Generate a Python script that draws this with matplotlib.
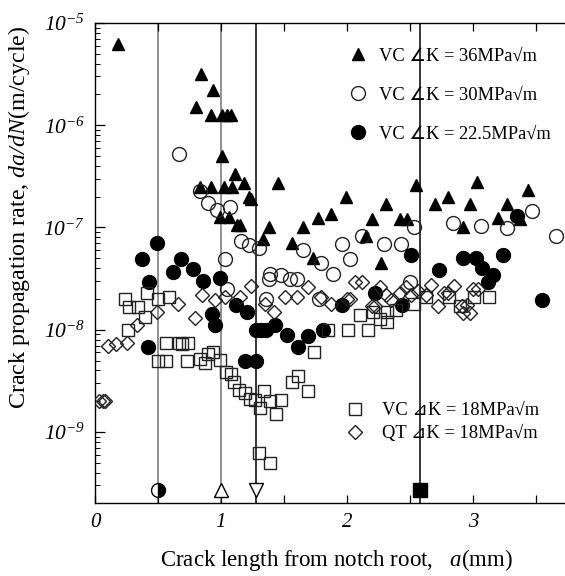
import numpy as np
import matplotlib.pyplot as plt

plt.rcParams['font.family'] = ['Liberation Serif', 'DejaVu Sans']
plt.rcParams['mathtext.fontset'] = 'custom'
plt.rcParams['mathtext.rm'] = 'Liberation Serif:italic'
plt.rcParams['mathtext.it'] = 'Liberation Serif:italic'
plt.rcParams['mathtext.default'] = 'it'

# VC, dK = 36 MPa sqrt(m)
x36 = [0.18, 0.84, 0.94, 0.80, 0.92, 1.01, 1.05, 1.08, 1.01, 1.11, 1.18, 0.83, 0.92, 1.02,
       1.09, 1.45, 1.22, 1.24, 0.99, 1.06, 1.13, 1.15, 1.38, 1.65, 1.77, 1.87, 1.33, 1.56,
       1.99, 2.20, 2.31, 2.42, 2.48, 2.55, 2.15, 1.73, 2.27, 2.70, 2.80, 2.98, 3.03, 2.92,
       3.20, 3.27, 3.37, 3.44]
y36 = [6.2e-6, 3.2e-6, 2.2e-6, 1.5e-6, 1.25e-6, 1.25e-6, 1.25e-6, 1.25e-6, 5e-7, 3.3e-7,
       2.7e-7, 2.5e-7, 2.5e-7, 2.5e-7, 2.5e-7, 2.7e-7, 2e-7, 1.9e-7, 1.26e-7, 1.26e-7,
       1.05e-7, 1.05e-7, 1e-7, 1e-7, 1.23e-7, 1.35e-7, 7.8e-8, 7e-8, 2e-7, 1.2e-7, 1.7e-7,
       1.2e-7, 1.2e-7, 2.6e-7, 8.3e-8, 5e-8, 4.5e-8, 1.7e-7, 2e-7, 1.7e-7, 2.8e-7, 1e-7,
       1.23e-7, 1.7e-7, 1.2e-7, 2.35e-7]

# VC, dK = 30
x30 = [0.67, 0.83, 0.90, 0.97, 1.07, 1.16, 1.22, 1.30, 1.65, 1.03, 1.79, 1.39, 1.48, 1.55,
       1.60, 1.38, 1.05, 1.36, 1.78, 1.89, 1.96, 2.02, 2.12, 2.29, 2.43, 2.53, 2.50, 2.84,
       3.06, 3.27, 3.47, 3.66]
y30 = [5.2e-7, 2.3e-7, 1.73e-7, 1.48e-7, 1.6e-7, 7.4e-8, 6.7e-8, 6.3e-8, 6e-8, 4.9e-8,
       4.5e-8, 3.5e-8, 3.4e-8, 3.1e-8, 3.1e-8, 3.1e-8, 2.5e-8, 2e-8, 2e-8, 3.5e-8, 6.9e-8,
       4.9e-8, 8.3e-8, 6.9e-8, 6.9e-8, 1e-7, 2.95e-8, 1.1e-7, 1.03e-7, 9.8e-8, 1.44e-7, 8.3e-8]

# VC, dK = 22.5
x22 = [0.49, 0.37, 0.68, 0.62, 0.78, 0.43, 0.86, 0.99, 1.12, 1.21, 0.93, 0.95, 1.28, 1.32,
       1.36, 1.43, 1.52, 1.61, 1.69, 1.81, 0.42, 1.19, 1.28, 2.51, 2.73, 2.92, 3.02, 3.07,
       3.16, 3.12, 3.24, 3.35, 3.55, 2.22, 1.96, 2.44]
y22 = [7e-8, 4.9e-8, 4.9e-8, 3.7e-8, 3.9e-8, 2.9e-8, 3e-8, 3.2e-8, 1.74e-8, 1.48e-8,
       1.44e-8, 1.12e-8, 1e-8, 1e-8, 1e-8, 1.12e-8, 8.9e-9, 6.8e-9, 8.7e-9, 1e-8, 6.8e-9,
       4.9e-9, 4.9e-9, 5.4e-8, 3.8e-8, 5e-8, 5e-8, 4e-8, 3.4e-8, 2.95e-8, 5.4e-8, 1.3e-7,
       1.95e-8, 2.3e-8, 1.74e-8, 1.74e-8]

# VC, dK = 18
x18 = [0.24, 0.27, 0.34, 0.41, 0.50, 0.59, 0.40, 0.26, 0.56, 0.67, 0.69, 0.74, 0.50, 0.56,
       0.73, 0.83, 0.87, 0.90, 0.94, 0.99, 1.04, 1.08, 1.10, 1.14, 1.19, 1.23, 1.27, 1.31,
       1.34, 1.39, 1.44, 1.48, 1.56, 1.61, 1.69, 1.74, 1.30, 1.39, 1.85, 2.01, 2.17, 2.10,
       2.21, 2.26, 2.32, 2.32, 2.39, 2.53, 2.63, 2.81, 2.90, 3.01, 3.13]
y18 = [2e-8, 1.66e-8, 1.66e-8, 2.3e-8, 2e-8, 2.1e-8, 1.32e-8, 1e-8, 7.4e-9, 7.5e-9, 7.2e-9,
       7.5e-9, 4.9e-9, 4.9e-9, 4.9e-9, 5.2e-9, 4.7e-9, 5.8e-9, 6.1e-9, 5.1e-9, 3.9e-9,
       3.7e-9, 3.1e-9, 2.6e-9, 2.4e-9, 2.1e-9, 2.05e-9, 1.7e-9, 2.5e-9, 2e-9, 1.5e-9,
       2.05e-9, 3.1e-9, 3.5e-9, 2.5e-9, 6e-9, 6.2e-10, 5e-10, 1e-8, 1e-8, 1e-8, 1.4e-8,
       1.5e-8, 1.26e-8, 1.48e-8, 1.18e-8, 1.55e-8, 1.78e-8, 2.1e-8, 2.1e-8, 1.7e-8, 2.1e-8,
       2.1e-8]

# QT, dK = 18
xqt = [0.03, 0.06, 0.08, 0.10, 0.17, 0.25, 0.33, 0.49, 0.66, 0.79, 0.85, 0.95, 1.03, 1.15,
       1.24, 1.35, 1.42, 1.51, 1.60, 1.69, 1.79, 1.87, 2.00, 2.02, 2.06, 2.12, 2.20, 2.22,
       2.26, 2.31, 2.35, 2.42, 2.47, 2.51, 2.56, 2.67, 2.63, 2.72, 2.77, 2.80, 2.85, 2.91,
       2.92, 2.98, 2.95, 3.00, 3.04]
yqt = [2e-9, 2e-9, 2e-9, 7e-9, 7.2e-9, 7.4e-9, 1.12e-8, 1.5e-8, 1.8e-8, 1.3e-8, 2.2e-8,
       1.95e-8, 2.1e-8, 2.1e-8, 2.7e-8, 1.8e-8, 1.5e-8, 2.1e-8, 2.1e-8, 2.6e-8, 2.1e-8,
       1.8e-8, 2e-8, 2e-8, 2.95e-8, 2.95e-8, 1.7e-8, 1.7e-8, 2.6e-8, 2.2e-8, 1.95e-8, 2.3e-8,
       2.6e-8, 2.2e-8, 2.4e-8, 2.75e-8, 2.2e-8, 1.7e-8, 2.3e-8, 2.3e-8, 2.7e-8, 1.7e-8,
       1.45e-8, 1.45e-8, 1.74e-8, 2.5e-8, 2.5e-8]

# reference crack lengths (vertical lines + symbols at the bottom)
ref_x = [0.5, 1.0, 1.28, 2.58]
ref_y = [2.7e-10, 2.7e-10, 2.7e-10, 2.7e-10]

lbl36 = 'VC ∠K = 36MPa√m'
lbl30 = 'VC ∠K = 30MPa√m'
lbl22 = 'VC ∠K = 22.5MPa√m'
lbl18 = 'VC ⊿K = 18MPa√m'
lblqt = 'QT ⊿K = 18MPa√m'

fig = plt.figure(figsize=(5.65, 5.76), dpi=100)
ax = fig.add_axes([95 / 565, 1 - 503 / 576, 472.5 / 565, 480 / 576])

line_cols = ['0.45', '0.45', 'black', 'black']
for xv, c in zip(ref_x, line_cols):
    ax.axvline(xv, color=c, lw=1.1, zorder=1)

ref_styles = [
    dict(marker='o', fillstyle='right', markerfacecolor='black', markerfacecoloralt='white'),
    dict(marker='^', markerfacecolor='white'),
    dict(marker='v', markerfacecolor='white'),
    dict(marker='s', markerfacecolor='black'),
]
for xv, yv, st in zip(ref_x, ref_y, ref_styles):
    ax.plot(xv, yv, linestyle='none', markersize=10, markeredgecolor='black',
            markeredgewidth=1.0, zorder=3, **st)

ec = '#222222'
h36, = ax.plot(x36, y36, '^', ls='none', ms=8.5, color='black', mec='black', zorder=3)
h30, = ax.plot(x30, y30, 'o', ls='none', ms=10, mfc='none', mec=ec, mew=1.0, zorder=3)
h22, = ax.plot(x22, y22, 'o', ls='none', ms=10, color='black', mec='black', zorder=3)
h18, = ax.plot(x18, y18, 's', ls='none', ms=9, mfc='none', mec=ec, mew=1.0, zorder=3)
hqt, = ax.plot(xqt, yqt, 'D', ls='none', ms=6.8, mfc='none', mec=ec, mew=1.0, zorder=3)

ax.set_yscale('log')
ax.set_xlim(0, 3.75)
ax.set_ylim(2.02e-10, 1e-5)

ax.set_xticks(np.arange(0, 3.75, 0.5))
ax.set_xticklabels(['0', '', '1', '', '2', '', '3', ''], fontstyle='italic', fontsize=15)
ax.set_yticks([1e-9, 1e-8, 1e-7, 1e-6, 1e-5])
ax.set_yticklabels([r'$10^{-9}$', r'$10^{-8}$', r'$10^{-7}$', r'$10^{-6}$', r'$10^{-5}$'],
                   fontsize=15.5)
ax.yaxis.set_minor_locator(plt.matplotlib.ticker.LogLocator(base=10, subs=np.arange(2, 10)))
ax.yaxis.set_minor_formatter(plt.matplotlib.ticker.NullFormatter())

ax.tick_params(axis='x', which='both', direction='in', top=True, length=6, width=0.9, pad=7)
ax.tick_params(axis='y', which='major', direction='in', length=7, width=0.9, pad=7)
ax.tick_params(axis='y', which='minor', direction='in', length=3.5, width=0.7)
for s in ['top', 'bottom', 'left']:
    ax.spines[s].set_linewidth(1.0)
ax.spines['right'].set_visible(False)

ax.set_ylabel(r'Crack propagation rate, $da/dN$(m/cycle)', fontsize=17.3)
ax.yaxis.set_label_coords(-0.133, 0.596)
ax.set_xlabel(r'Crack length from notch root,   $a$(mm)', fontsize=16.5, va='top')
ax.xaxis.set_label_coords(0.51, -0.092)

leg_font = {'family': ['Liberation Serif', 'DejaVu Sans'], 'size': 13.3}
leg1 = ax.legend([h36, h30, h22], [lbl36, lbl30, lbl22], loc='upper left',
                 bbox_to_anchor=(0.518, 0.968), frameon=False, borderpad=0,
                 handlelength=1.0, handletextpad=0.6, labelspacing=1.2, prop=leg_font)
ax.add_artist(leg1)
ax.legend([h18, hqt], [lbl18, lblqt], loc='upper left',
          bbox_to_anchor=(0.512, 0.229), frameon=False, borderpad=0,
          handlelength=1.0, handletextpad=0.95, labelspacing=0.3, prop=leg_font)

fig.savefig('out.png', dpi=100)
